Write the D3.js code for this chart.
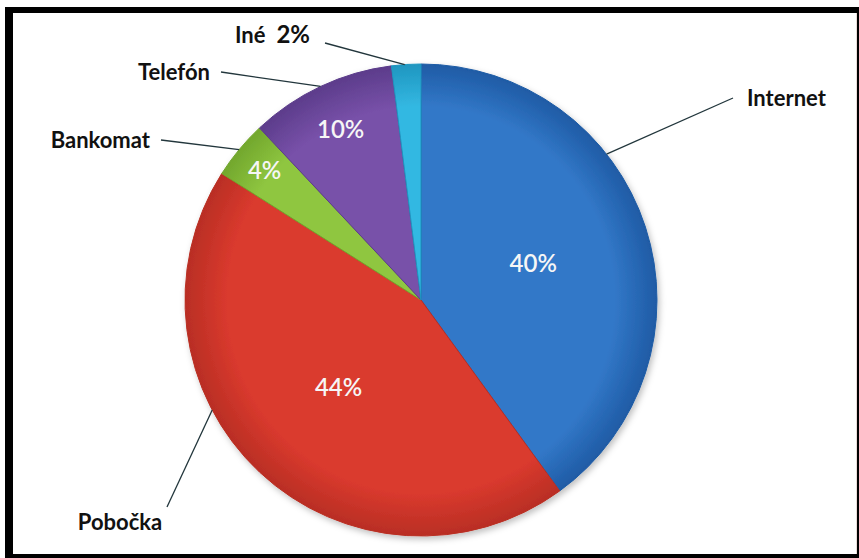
<!DOCTYPE html>
<html lang="en">
<head>
    <meta charset="utf-8">
    <title>Pie</title>
    <style>
        html, body { margin: 0; padding: 0; background: #fff; }
        svg { display: block; }
    </style>
</head>
<body>
<svg id="chart"></svg>
<script src="https://d3js.org/d3.v7.min.js"></script>
<script>
    // data
    const categories = ["Internet", "Pobočka", "Bankomat", "Telefón", "Iné"];
    const shares = [40, 44, 4, 10, 2];
    const colors = ["#3278c8", "#da3a2e", "#8fc640", "#7851a9", "#33b8e2"];
    const darkColors = ["#1f5ba5", "#b92e24", "#72a72d", "#5c3c8b", "#1f96c0"];

    const W = 859, H = 558;
    const cx = 421, cy = 300, R = 236;

    // label layout: where the leader leaves the slice (fraction of slice), inner label radius,
    // and where the outside text sits (relative to pie centre)
    const leaderFrac = [0.36, 0.62, 0.5, 0.5, 0.45];
    const innerRadius = [0.5, 0.51, 0.86, 0.8, 0];
    const outerPos = [[326, -202], [-301, 222], [-271, -160], [-211, -228], [-111, -265]];
    const outerAnchor = ["start", "middle", "end", "end", "end"];

    const svg = d3.select("#chart").attr("width", W).attr("height", H);

    // frame
    svg.append("rect").attr("x", 5).attr("y", 7).attr("width", W - 5).attr("height", H - 7).attr("fill", "#000");
    svg.append("rect").attr("x", 13).attr("y", 13).attr("width", 843).attr("height", 541).attr("fill", "#fff");
    svg.append("line").attr("x1", 856.5).attr("x2", 856.5).attr("y1", 13).attr("y2", 554)
        .attr("stroke", "#e8dcd8").attr("stroke-width", 1);

    const defs = svg.append("defs");
    colors.forEach(function(c, i) {
        const gr = defs.append("radialGradient").attr("id", "g" + i)
            .attr("gradientUnits", "userSpaceOnUse")
            .attr("cx", 0).attr("cy", 0).attr("r", R);
        gr.append("stop").attr("offset", "0%").attr("stop-color", c);
        gr.append("stop").attr("offset", "82%").attr("stop-color", c);
        gr.append("stop").attr("offset", "100%").attr("stop-color", darkColors[i]);
    });
    const sh = defs.append("filter").attr("id", "shadow").attr("x", "-10%").attr("y", "-10%").attr("width", "130%").attr("height", "130%");
    sh.append("feDropShadow").attr("dx", 2).attr("dy", 3).attr("stdDeviation", 3).attr("flood-opacity", 0.25);

    const pie = d3.pie().sort(null).value(function(d) { return d; });
    const arcs = pie(shares);
    const arc = d3.arc().innerRadius(0).outerRadius(R);

    const g = svg.append("g").attr("transform", "translate(" + cx + "," + cy + ")");

    g.append("g").attr("filter", "url(#shadow)")
        .selectAll("path")
        .data(arcs)
        .enter()
        .append("path")
        .attr("d", arc)
        .attr("fill", function(d, i) { return "url(#g" + i + ")"; })
        .attr("stroke", function(d, i) { return darkColors[i]; })
        .attr("stroke-width", 1)
        .attr("stroke-linejoin", "round");

    // inner percent labels
    arcs.forEach(function(d, i) {
        if (!innerRadius[i]) return;
        const a = (d.startAngle + d.endAngle) / 2;
        const r = innerRadius[i] * R;
        g.append("text")
            .attr("x", r * Math.sin(a))
            .attr("y", -r * Math.cos(a))
            .attr("dy", "0.36em")
            .attr("text-anchor", "middle")
            .attr("fill", "#f6f6f6")
            .style("font", "600 24px Lato, 'Open Sans', sans-serif")
            .text(shares[i] + "%");
    });

    // leader lines + outside labels
    arcs.forEach(function(d, i) {
        const a = d.startAngle + (d.endAngle - d.startAngle) * leaderFrac[i];
        const sx = R * Math.sin(a), sy = -R * Math.cos(a);
        const p = outerPos[i];
        let ex = p[0], ey = p[1];
        if (outerAnchor[i] === "start") ex -= 14;
        else if (outerAnchor[i] === "end") ex += 11;
        else { ex += 47; ey -= 15; }
        if (i === 4) { ex += 4; ey += 8; }
        g.append("line")
            .attr("x1", sx).attr("y1", sy).attr("x2", ex).attr("y2", ey)
            .attr("stroke", "#22363c").attr("stroke-width", 1.3);
        const t = g.append("text")
            .attr("x", p[0]).attr("y", p[1])
            .attr("dy", "0.35em")
            .attr("text-anchor", outerAnchor[i])
            .attr("fill", "#111")
            .style("font", "bold 22px Lato, 'Open Sans', sans-serif");
        if (i === 4) {
            t.text(categories[i]);
            t.append("tspan").attr("dx", 11).style("font-size", "24px").text(shares[i] + "%");
        } else {
            t.text(categories[i]);
        }
    });
</script>
</body>
</html>
